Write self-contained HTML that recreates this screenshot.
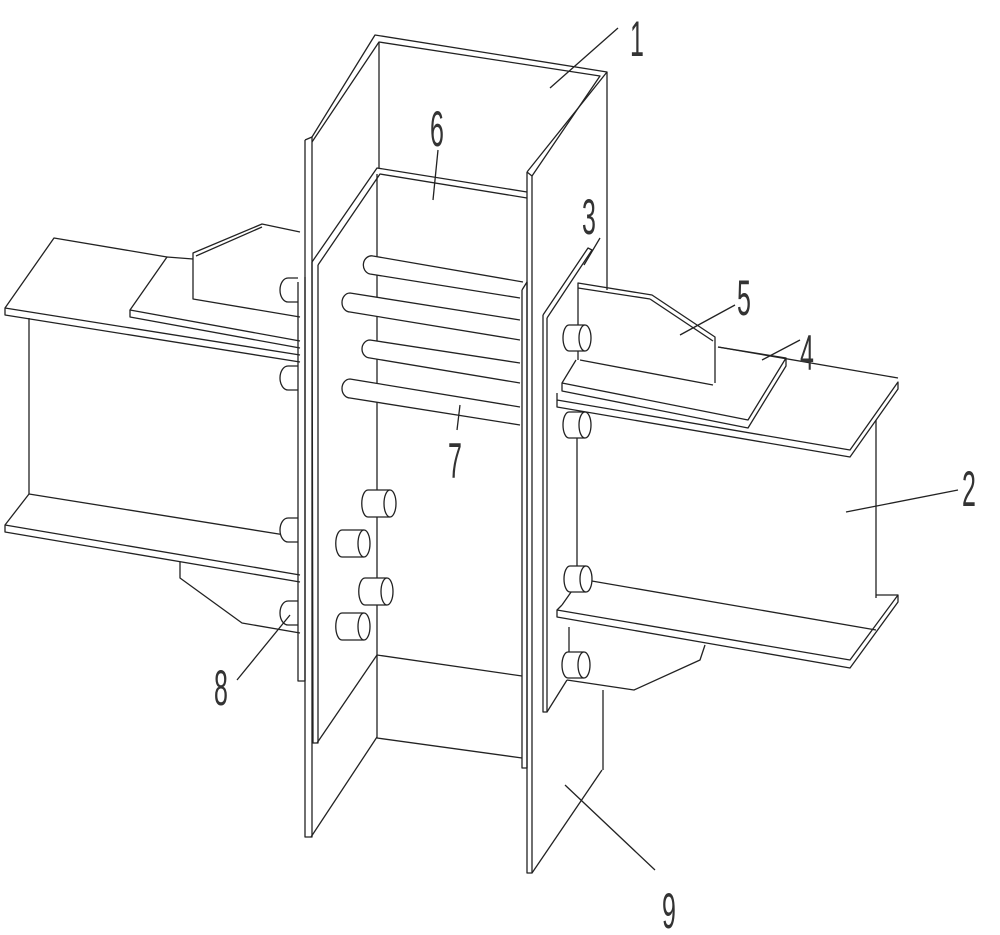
<!DOCTYPE html>
<html><head><meta charset="utf-8"><style>
html,body{margin:0;padding:0;background:#fff;}
svg{display:block;}
text{font-family:"Liberation Sans",sans-serif;font-size:50px;fill:#333;}
</style></head><body>
<svg width="1000" height="935" viewBox="0 0 1000 935" xmlns="http://www.w3.org/2000/svg">
<g fill="none" stroke="#222" stroke-width="1.3" stroke-linejoin="round">
<!-- LEFT BEAM -->
<polyline points="300,232 262,224 193,253 193,299 300,317"/>
<line x1="262" y1="227" x2="196" y2="256"/>
<polyline points="300,341 130,310 167,257 193,259"/>
<polyline points="300,348 130,317 130,310"/>
<polyline points="167,257 54,238 5,308 5,315 300,362"/>
<line x1="5" y1="308" x2="300" y2="355"/>
<line x1="29" y1="318" x2="29" y2="494"/>
<polyline points="285,535 29,494 5,525 5,532 300,582"/>
<line x1="5" y1="525" x2="300" y2="575"/>
<polyline points="180,562 180,578 242,623 300,633"/>
<!-- left bolts -->
<g fill="#fff">
<path d="M298,278 h-10 a8,12 0 0 0 0,24 h10"/>
<path d="M298,366 h-10 a8,12 0 0 0 0,24 h10"/>
<path d="M298,518 h-10 a8,12 0 0 0 0,24 h10"/>
<path d="M298,601 h-10 a8,12 0 0 0 0,24 h10"/>
</g>
<polyline points="298,282 298,681 305,681 305,277"/>
<!-- COLUMN back -->
<polyline points="312,137 375,35 607,72 527,172"/>
<polyline points="312,142 379,42 600,76 532,176"/>
<line x1="379" y1="42" x2="379" y2="168"/>
<line x1="607" y1="72" x2="607" y2="290"/>
<line x1="603" y1="690" x2="603" y2="770"/>
<!-- column left flange -->
<polyline points="305,140 312,137 312,837 305,837 305,140"/>
<line x1="311" y1="837" x2="377" y2="737"/>
<line x1="377" y1="655" x2="522" y2="676"/>
<line x1="377" y1="738" x2="522" y2="758"/>
<line x1="377" y1="174" x2="377" y2="738"/>
<!-- plate 6 -->
<polyline points="312,262 377,168 527,192"/>
<polyline points="318,265 380,174 527,198"/>
<polyline points="312,262 312,265 313,743 318,743 318,265"/>
<line x1="317" y1="743" x2="377" y2="655"/>
<!-- rods -->
<g fill="#fff">
<path d="M523,282 L373,256 a8,9 0 0 0 -3,18 L520,298"/>
<path d="M520,320 L350,293 a8,9.5 0 0 0 0,19 L520,340"/>
<path d="M520,363 L370,340 a8,9 0 0 0 0,18 L520,383"/>
<path d="M520,407 L350,379 a8,9.5 0 0 0 0,19 L520,425"/>
</g>
<polyline points="522,290 527,282 527,768 522,768 522,290"/>
<!-- column right flange -->
<polyline points="527,172 532,176 532,873 527,873 527,172"/>
<line x1="532" y1="873" x2="602" y2="770"/>
<!-- center bolts -->
<g fill="#fff">
<path d="M390,490 h-22 a6,13 0 0 0 0,27 h22"/><ellipse cx="390" cy="503.5" rx="6" ry="13.5"/>
<path d="M364,530 h-22 a6,13 0 0 0 0,27 h22"/><ellipse cx="364" cy="543.5" rx="6" ry="13.5"/>
<path d="M387,578 h-22 a6,13 0 0 0 0,27 h22"/><ellipse cx="387" cy="591.5" rx="6" ry="13.5"/>
<path d="M364,613 h-22 a6,13 0 0 0 0,27 h22"/><ellipse cx="364" cy="626.5" rx="6" ry="13.5"/>
</g>
<!-- plate 3 -->
<polyline points="543,315 588,248 592,250 547,318"/>
<polyline points="543,315 543,712 547,712 547,318"/>
<line x1="547" y1="712" x2="567" y2="680"/>
<!-- RIGHT BEAM -->
<polyline points="578,360 578,283 652,295 715,337 715,383"/>
<line x1="578" y1="288" x2="650" y2="299"/>
<line x1="650" y1="299" x2="713" y2="341"/>
<line x1="580" y1="360" x2="713" y2="385"/>
<line x1="718" y1="347" x2="898" y2="378"/>
<polyline points="576,360 562,383 562,391 748,428 786,366 786,358 748,420 562,383"/>
<line x1="786" y1="358" x2="718" y2="347"/>
<polyline points="557,393 557,400 850,450 898,382 898,389 850,457 557,407 557,400"/>
<line x1="577" y1="425" x2="577" y2="570"/>
<line x1="876" y1="420" x2="876" y2="598"/>
<line x1="586" y1="580" x2="876" y2="630"/>
<polyline points="562,605 557,610 557,617 850,668 898,602 898,595 850,660 557,610"/>
<line x1="562" y1="605" x2="576" y2="585"/>
<line x1="876" y1="595" x2="898" y2="595"/>
<polyline points="567,680 634,690 700,660 705,645"/>
<line x1="569" y1="627" x2="569" y2="660"/>
<!-- right bolts -->
<g fill="#fff">
<path d="M585,325 h-16 a6,13 0 0 0 0,26 h16"/><ellipse cx="585" cy="338" rx="6" ry="13"/>
<path d="M585,412 h-16 a6,13 0 0 0 0,26 h16"/><ellipse cx="585" cy="425" rx="6" ry="13"/>
<path d="M586,566 h-16 a6,13 0 0 0 0,26 h16"/><ellipse cx="586" cy="579" rx="6" ry="13"/>
<path d="M584,652 h-16 a6,13 0 0 0 0,26 h16"/><ellipse cx="584" cy="665" rx="6" ry="13"/>
</g>
<!-- leaders -->
<line x1="550" y1="88" x2="618" y2="28"/>
<line x1="433" y1="200" x2="438" y2="150"/>
<line x1="584" y1="265" x2="600" y2="238"/>
<line x1="680" y1="335" x2="735" y2="305"/>
<line x1="762" y1="360" x2="800" y2="340"/>
<line x1="846" y1="512" x2="958" y2="490"/>
<line x1="460" y1="405" x2="457" y2="430"/>
<line x1="290" y1="615" x2="237" y2="680"/>
<line x1="565" y1="785" x2="655" y2="870"/>
</g>
<g>
<text transform="translate(630,56) scale(0.5,1)">1</text>
<text transform="translate(430,146) scale(0.5,1)">6</text>
<text transform="translate(582,234) scale(0.5,1)">3</text>
<text transform="translate(737,315) scale(0.5,1)">5</text>
<text transform="translate(800,370) scale(0.5,1)">4</text>
<text transform="translate(962,506) scale(0.5,1)">2</text>
<text transform="translate(448,478) scale(0.5,1)">7</text>
<text transform="translate(214,705) scale(0.5,1)">8</text>
<text transform="translate(662,928) scale(0.5,1)">9</text>
</g>
</svg>
</body></html>
